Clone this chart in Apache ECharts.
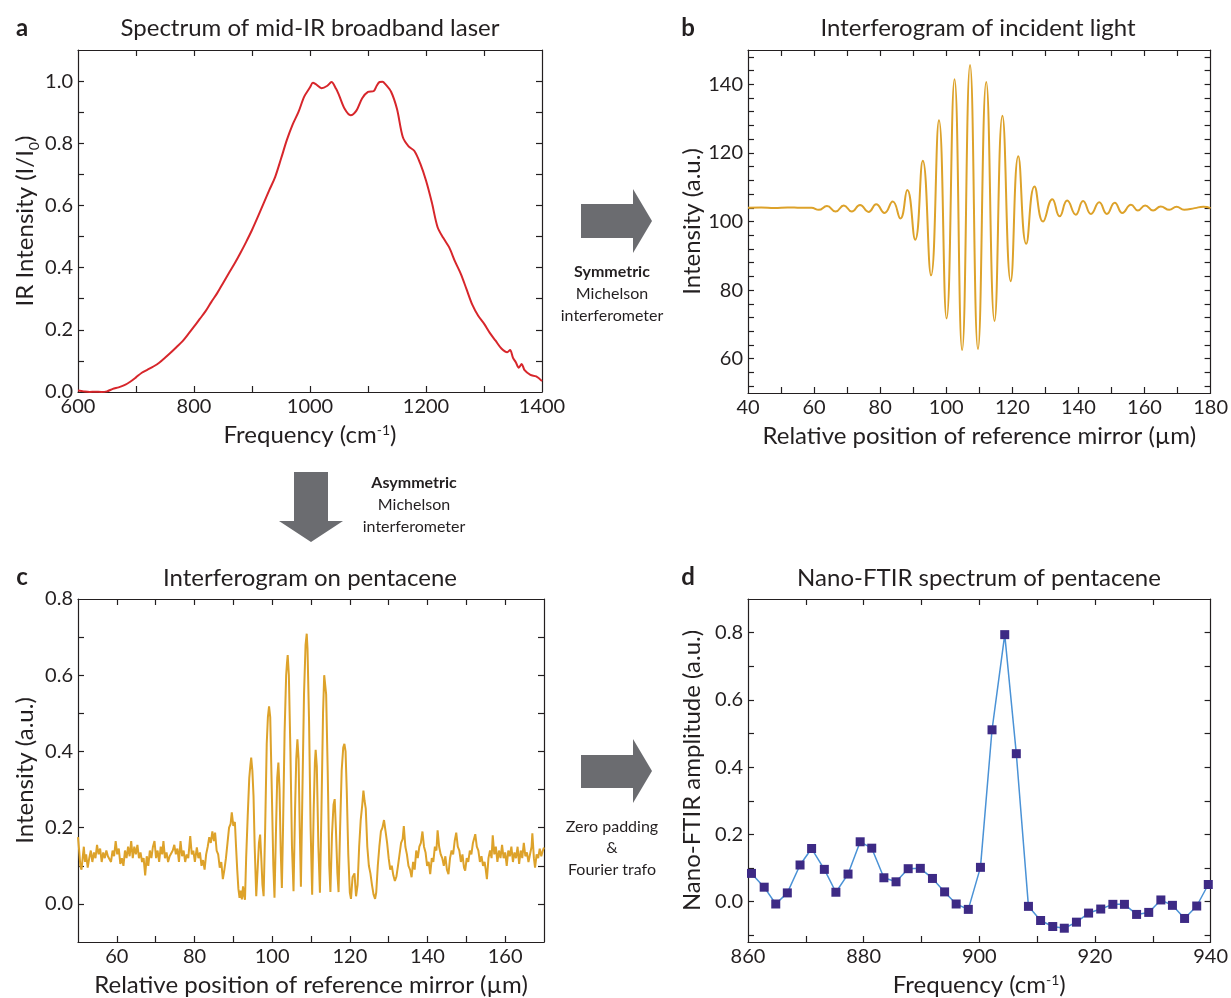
<!DOCTYPE html>
<html>
<head>
<meta charset="utf-8">
<title>Nano-FTIR figure</title>
<script src="https://cdn.jsdelivr.net/npm/echarts@6.0.0/dist/echarts.min.js"></script>
<style>
  html, body { margin: 0; padding: 0; background: #fff; }
  #chart { width: 1231px; height: 998px; }
</style>
</head>
<body>
<div id="chart"></div>
<script>
// ---- panel a: spectrum of the mid-IR laser ----
const aFreq = [600, 610, 620, 630, 640, 650, 660, 670, 680, 690, 700, 710, 720, 730, 740, 750, 760, 770, 780, 790,
  800, 810, 820, 830, 840, 850, 860, 870, 880, 890, 900, 910, 920, 930, 940, 950, 960, 970, 980, 990,
  1000, 1005, 1010, 1020, 1030, 1037, 1045, 1050, 1060, 1070, 1080, 1090, 1100, 1110, 1115, 1120, 1125, 1130,
  1140, 1150, 1160, 1170, 1180, 1190, 1200, 1210, 1220, 1230, 1240, 1250, 1260, 1270, 1280, 1290, 1300,
  1310, 1320, 1330, 1340, 1345, 1350, 1355, 1360, 1365, 1370, 1380, 1390, 1400];
const aIntensity = [0.005, 0.002, 0.0, 0.001, 0.0, 0.002, 0.01, 0.015, 0.022, 0.033, 0.047, 0.062, 0.072, 0.082, 0.094, 0.11, 0.127, 0.145, 0.163, 0.186,
  0.21, 0.235, 0.26, 0.29, 0.318, 0.35, 0.382, 0.413, 0.447, 0.483, 0.521, 0.563, 0.607, 0.65, 0.692, 0.75, 0.81, 0.86, 0.90, 0.95,
  0.98, 0.995, 0.99, 0.977, 0.985, 0.997, 0.975, 0.955, 0.91, 0.89, 0.905, 0.945, 0.965, 0.968, 0.985, 0.997, 0.998, 0.99,
  0.965, 0.91, 0.82, 0.79, 0.775, 0.735, 0.68, 0.61, 0.53, 0.495, 0.465, 0.42, 0.38, 0.33, 0.28, 0.245, 0.22,
  0.19, 0.165, 0.14, 0.128, 0.135, 0.11, 0.095, 0.078, 0.09, 0.07, 0.055, 0.05, 0.035];
const aXLabels = [600, 800, 1000, 1200, 1400];
const aXTicks = [700, 800, 900, 1000, 1100, 1200, 1300];
const aYLabels = [0, 0.2, 0.4, 0.6, 0.8, 1.0];
const aYTicks = [0.1, 0.2, 0.3, 0.4, 0.5, 0.6, 0.7, 0.8, 0.9, 1.0];

// ---- panel b: interferogram of incident light ----
const bPos = [40, 44, 48, 52, 56, 59.2, 61.4, 63.9, 66.5, 69.0, 71.4, 73.9, 76.5, 78.8, 81.3, 83.8, 86.1, 88.2, 90.6,
  92.9, 95.4, 97.8, 100.1, 102.5, 104.8, 107.2, 109.6, 112.1, 114.6, 117.0, 119.5, 121.8, 124.2, 126.7, 129.3,
  132.1, 134.3, 136.6, 139.2, 141.4, 143.8, 146.3, 148.6, 151.0, 153.3, 155.9, 158.0, 160.2, 162.6, 164.9,
  167.5, 169.7, 172.0, 175.2, 177.8, 180];
const bIntensity = [104.0, 104.1, 103.9, 104.1, 104.0, 104.0, 103.4, 104.5, 102.9, 104.7, 102.9, 104.8, 102.8, 105.0, 102.5, 105.8, 100.9, 109.2, 94.7,
  117.7, 84.3, 129.5, 71.7, 141.5, 62.5, 145.6, 62.8, 140.7, 71.0, 130.8, 82.6, 119.0, 93.5, 110.2, 100.0,
  106.5, 101.5, 106.1, 102.0, 106.0, 102.2, 105.6, 102.2, 105.5, 102.5, 104.9, 103.2, 104.7, 103.2, 104.4,
  103.4, 104.3, 103.4, 103.9, 104.3, 103.9];
const bXLabels = [40, 60, 80, 100, 120, 140, 160, 180];
const bXTicks = [50, 60, 70, 80, 90, 100, 110, 120, 130, 140, 150, 160, 170];
const bYLabels = [60, 80, 100, 120, 140];
const bYTicks = [52, 56, 60, 64, 68, 72, 76, 80, 84, 88, 92, 96, 100, 104, 108, 112, 116, 120, 124, 128, 132, 136, 140, 144, 148];

// ---- panel c: interferogram on pentacene ----
const cPos = [50.0, 50.3, 50.6, 50.9, 51.2, 51.5, 51.8, 52.1, 52.5, 52.9, 53.3, 53.7, 54.1, 54.5, 54.9, 55.3, 55.7, 56.1, 56.5, 56.9,
  57.3, 57.7, 58.1, 58.5, 58.9, 59.3, 59.7, 60.1, 60.5, 60.9, 61.3, 61.7, 62.1, 62.5, 62.9, 63.3, 63.7, 64.1, 64.5, 64.9,
  65.3, 65.7, 66.1, 66.5, 66.9, 67.3, 67.7, 68.1, 68.5, 68.9, 69.3, 69.7, 70.1, 70.5, 70.9, 71.3, 71.7, 72.0, 72.4, 72.8,
  73.2, 73.6, 74.0, 74.4, 74.8, 75.2, 75.6, 76.0, 76.4, 76.8, 77.2, 77.6, 78.0, 78.4, 78.9, 79.3, 79.7, 80.1, 80.6, 81.0,
  81.4, 81.8, 82.2, 82.6, 83.0, 83.4, 83.8, 84.2, 84.6, 85.0, 85.3, 85.7, 86.1, 86.5, 86.9, 87.3, 87.7, 88.1, 88.5, 88.9,
  89.3, 89.6, 90.0, 90.4, 90.7, 91.0, 91.3, 91.6, 91.9, 92.2, 92.5, 92.8, 93.0, 93.3, 93.7, 94.1, 94.4, 94.6, 94.9, 95.2,
  95.5, 95.9, 96.3, 96.6, 96.9, 97.2, 97.5, 97.8, 98.2, 98.6, 98.9, 99.2, 99.5, 99.9, 100.3, 100.6, 101.0, 101.3, 101.6, 101.9,
  102.2, 102.5, 102.8, 103.2, 103.6, 103.8, 104.0, 104.3, 104.7, 105.1, 105.5, 105.9, 106.2, 106.5, 106.8, 107.1, 107.4, 107.8, 108.2, 108.6,
  108.9, 109.1, 109.5, 109.9, 110.3, 110.7, 111.0, 111.2, 111.5, 111.9, 112.3, 112.7, 113.1, 113.4, 113.6, 113.9, 114.3, 114.7, 115.0, 115.4,
  115.8, 116.1, 116.4, 116.8, 117.1, 117.5, 117.9, 118.3, 118.6, 118.9, 119.2, 119.6, 120.0, 120.3, 120.7, 121.2, 121.6, 122.0, 122.4, 122.8,
  123.2, 123.5, 123.8, 124.1, 124.5, 124.9, 125.3, 125.7, 126.1, 126.5, 126.8, 127.2, 127.6, 128.0, 128.4, 128.8, 129.2, 129.6, 130.0, 130.4,
  130.8, 131.2, 131.6, 132.0, 132.4, 132.8, 133.2, 133.6, 133.9, 134.3, 134.7, 135.1, 135.5, 135.9, 136.3, 136.7, 137.1, 137.5, 137.9, 138.3,
  138.7, 139.1, 139.5, 139.9, 140.3, 140.7, 141.1, 141.5, 141.9, 142.3, 142.6, 143.0, 143.4, 143.8, 144.2, 144.6, 145.0, 145.4, 145.8, 146.2,
  146.6, 147.0, 147.4, 147.8, 148.2, 148.6, 149.0, 149.4, 149.7, 150.1, 150.5, 150.9, 151.3, 151.7, 152.0, 152.3, 152.7, 153.1, 153.5, 153.9,
  154.3, 154.7, 155.0, 155.3, 155.7, 156.1, 156.5, 156.8, 157.2, 157.6, 158.0, 158.4, 158.8, 159.2, 159.6, 160.0, 160.4, 160.8, 161.2, 161.6,
  162.0, 162.4, 162.8, 163.2, 163.6, 164.0, 164.4, 164.8, 165.2, 165.6, 166.0, 166.4, 166.8, 167.0, 167.4, 167.7, 168.1, 168.5, 168.9, 169.3,
  169.7, 170.0];
const cIntensity = [0.175, 0.14, 0.10, 0.09, 0.12, 0.15, 0.11, 0.13, 0.095, 0.12, 0.14, 0.11, 0.135, 0.12, 0.155, 0.13, 0.145, 0.11, 0.135, 0.12,
  0.14, 0.125, 0.13, 0.11, 0.14, 0.125, 0.165, 0.13, 0.145, 0.105, 0.12, 0.10, 0.14, 0.12, 0.15, 0.125, 0.165, 0.12, 0.15, 0.13,
  0.155, 0.12, 0.135, 0.11, 0.12, 0.075, 0.125, 0.10, 0.14, 0.12, 0.15, 0.165, 0.12, 0.14, 0.11, 0.15, 0.13, 0.165, 0.12, 0.135,
  0.11, 0.125, 0.12, 0.14, 0.155, 0.13, 0.145, 0.11, 0.165, 0.125, 0.14, 0.11, 0.13, 0.12, 0.178, 0.13, 0.14, 0.11, 0.148, 0.12,
  0.135, 0.10, 0.115, 0.09, 0.13, 0.15, 0.175, 0.16, 0.19, 0.165, 0.187, 0.14, 0.13, 0.095, 0.11, 0.065, 0.09, 0.12, 0.16, 0.20,
  0.21, 0.24, 0.205, 0.215, 0.15, 0.09, 0.04, 0.016, 0.035, 0.012, 0.046, 0.02, 0.011, 0.12, 0.23, 0.33, 0.365, 0.384, 0.35, 0.283,
  0.15, 0.02, 0.10, 0.16, 0.182, 0.12, 0.05, 0.02, 0.20, 0.42, 0.49, 0.518, 0.49, 0.30, 0.10, 0.016, 0.20, 0.33, 0.371, 0.30,
  0.14, 0.042, 0.20, 0.45, 0.60, 0.63, 0.653, 0.60, 0.40, 0.15, 0.033, 0.25, 0.38, 0.432, 0.38, 0.20, 0.045, 0.30, 0.55, 0.68,
  0.709, 0.67, 0.48, 0.20, 0.024, 0.25, 0.37, 0.404, 0.36, 0.15, 0.029, 0.25, 0.50, 0.60, 0.605, 0.55, 0.35, 0.10, 0.031, 0.18,
  0.26, 0.275, 0.20, 0.08, 0.031, 0.20, 0.35, 0.41, 0.42, 0.40, 0.30, 0.13, 0.03, 0.013, 0.07, 0.08, 0.02, 0.05, 0.15, 0.22,
  0.26, 0.297, 0.27, 0.25, 0.15, 0.10, 0.08, 0.05, 0.025, 0.013, 0.03, 0.10, 0.15, 0.19, 0.20, 0.22, 0.19, 0.16, 0.12, 0.09,
  0.10, 0.075, 0.06, 0.072, 0.10, 0.13, 0.16, 0.17, 0.204, 0.15, 0.13, 0.10, 0.09, 0.07, 0.11, 0.09, 0.14, 0.12, 0.15, 0.16,
  0.19, 0.15, 0.135, 0.10, 0.11, 0.078, 0.12, 0.11, 0.15, 0.14, 0.193, 0.15, 0.13, 0.12, 0.10, 0.125, 0.09, 0.078, 0.12, 0.14,
  0.13, 0.165, 0.187, 0.15, 0.14, 0.11, 0.13, 0.095, 0.087, 0.12, 0.11, 0.14, 0.13, 0.16, 0.155, 0.183, 0.15, 0.14, 0.11, 0.125,
  0.10, 0.11, 0.09, 0.065, 0.12, 0.14, 0.12, 0.18, 0.13, 0.15, 0.11, 0.14, 0.12, 0.155, 0.12, 0.135, 0.10, 0.14, 0.125, 0.15,
  0.11, 0.135, 0.12, 0.15, 0.105, 0.14, 0.12, 0.16, 0.125, 0.135, 0.11, 0.13, 0.15, 0.185, 0.12, 0.095, 0.13, 0.12, 0.145, 0.125,
  0.14, 0.148];
const cXLabels = [60, 80, 100, 120, 140, 160];
const cXTicks = [60, 70, 80, 90, 100, 110, 120, 130, 140, 150, 160];
const cYLabels = [0, 0.2, 0.4, 0.6, 0.8];
const cYTicks = [0, 0.1, 0.2, 0.3, 0.4, 0.5, 0.6, 0.7];

// ---- panel d: nano-FTIR spectrum ----
const dFreq = [860.6, 862.8, 864.8, 866.8, 869.0, 871.0, 873.2, 875.2, 877.3, 879.4, 881.4, 883.5, 885.6, 887.7, 889.8,
  891.9, 894.0, 896.0, 898.1, 900.2, 902.2, 904.4, 906.4, 908.5, 910.6, 912.7, 914.7, 916.8, 918.9, 921.0,
  923.1, 925.1, 927.2, 929.3, 931.4, 933.4, 935.5, 937.6, 939.6];
const dAmplitude = [0.084, 0.043, -0.007, 0.026, 0.109, 0.158, 0.096, 0.028, 0.082, 0.178, 0.159, 0.071, 0.059, 0.098, 0.099,
  0.069, 0.029, -0.007, -0.023, 0.102, 0.511, 0.794, 0.440, -0.014, -0.056, -0.074, -0.079, -0.061, -0.034, -0.022,
  -0.008, -0.008, -0.038, -0.032, 0.005, -0.011, -0.050, -0.013, 0.051];
const dXLabels = [860, 880, 900, 920, 940];
const dXTicks = [870, 880, 890, 900, 910, 920, 930];
const dYLabels = [0, 0.2, 0.4, 0.6, 0.8];
const dYTicks = [-0.1, 0, 0.1, 0.2, 0.3, 0.4, 0.5, 0.6, 0.7, 0.8];

const FONT = 'Lato';
const INK = '#231f20';
const GOLD = '#dda22a';

const zip = (xs, ys) => xs.map((x, i) => [x, ys[i]]);
const oneDecimal = v => v.toFixed(1);
const plain = v => String(v); // no thousands separator

// rich styles for sub/superscripts in axis names
const nameStyle = {
  fontFamily: FONT, fontSize: 24, color: INK,
  rich: {
    sup: {fontFamily: FONT, fontSize: 14, color: INK, verticalAlign: 'top', lineHeight: 24},
    sub: {fontFamily: FONT, fontSize: 14, color: INK, verticalAlign: 'bottom', lineHeight: 32}
  }
};

const lineStyle = {color: INK, width: 1.2};

// bottom + mirrored top x axis
function xPair(gi, min, max, labels, ticks, name, fmt) {
  const tick = {inside: true, length: 6, customValues: ticks, lineStyle};
  return [
    {
      type: 'value', gridIndex: gi, position: 'bottom', min, max,
      axisLine: {onZero: false, lineStyle}, axisTick: tick, splitLine: {show: false},
      axisLabel: {customValues: labels, color: INK, fontFamily: FONT, fontSize: 20, margin: 5, formatter: fmt},
      name, nameLocation: 'middle', nameGap: 31, nameTextStyle: nameStyle
    },
    {
      type: 'value', gridIndex: gi, position: 'top', min, max,
      axisLine: {onZero: false, lineStyle}, axisTick: tick, splitLine: {show: false},
      axisLabel: {show: false}
    }
  ];
}

// left + mirrored right y axis
function yPair(gi, min, max, labels, ticks, name, gap, fmt) {
  const tick = {inside: true, length: 6, customValues: ticks, lineStyle};
  return [
    {
      type: 'value', gridIndex: gi, position: 'left', min, max,
      axisLine: {onZero: false, lineStyle}, axisTick: tick, splitLine: {show: false},
      axisLabel: {customValues: labels, color: INK, fontFamily: FONT, fontSize: 20, margin: 5, formatter: fmt},
      name, nameLocation: 'middle', nameGap: gap, nameTextStyle: nameStyle
    },
    {
      type: 'value', gridIndex: gi, position: 'right', min, max,
      axisLine: {onZero: false, lineStyle}, axisTick: tick, splitLine: {show: false},
      axisLabel: {show: false}
    }
  ];
}

function label(text, x, y, size, bold) {
  return {
    type: 'text', x, y, silent: true,
    style: {
      text, fill: INK, align: 'center', verticalAlign: 'middle',
      font: (bold ? 'bold ' : '') + size + 'px ' + FONT
    }
  };
}

function arrow(points) {
  return {type: 'polygon', silent: true, shape: {points}, style: {fill: '#6b6c70'}};
}

const option = {
  animation: false,
  backgroundColor: '#fff',
  grid: [
    {left: 78, top: 50, width: 464, height: 342},
    {left: 748, top: 50, width: 465, height: 343},
    {left: 78, top: 599, width: 466, height: 344},
    {left: 748, top: 599, width: 465, height: 344}
  ],
  xAxis: [
    ...xPair(0, 600, 1400, aXLabels, aXTicks, 'Frequency (cm{sup|-1})', plain),
    ...xPair(1, 40, 180, bXLabels, bXTicks, 'Relative position of reference mirror (µm)', plain),
    ...xPair(2, 50, 170, cXLabels, cXTicks, 'Relative position of reference mirror (µm)', plain),
    ...xPair(3, 860, 940, dXLabels, dXTicks, 'Frequency (cm{sup|-1})', plain)
  ],
  yAxis: [
    ...yPair(0, 0, 1.1, aYLabels, aYTicks, 'IR Intensity (I/I{sub|0})', 37, oneDecimal),
    ...yPair(1, 50, 150, bYLabels, bYTicks, 'Intensity (a.u.)', 43, plain),
    ...yPair(2, -0.1, 0.8, cYLabels, cYTicks, 'Intensity (a.u.)', 41, oneDecimal),
    ...yPair(3, -0.12, 0.9, dYLabels, dYTicks, 'Nano-FTIR amplitude (a.u.)', 44, oneDecimal)
  ],
  series: [
    {
      type: 'line', xAxisIndex: 0, yAxisIndex: 0, data: zip(aFreq, aIntensity),
      showSymbol: false, smooth: 0.3, lineStyle: {color: '#d7262b', width: 2}
    },
    {
      type: 'line', xAxisIndex: 2, yAxisIndex: 2, data: zip(bPos, bIntensity),
      showSymbol: false, smooth: 0.5, lineStyle: {color: GOLD, width: 2}
    },
    {
      type: 'line', xAxisIndex: 4, yAxisIndex: 4, data: zip(cPos, cIntensity),
      showSymbol: false, lineStyle: {color: GOLD, width: 2}
    },
    {
      type: 'line', xAxisIndex: 6, yAxisIndex: 6, data: zip(dFreq, dAmplitude),
      symbol: 'rect', symbolSize: 9, showSymbol: true,
      itemStyle: {color: '#3d2a85'}, lineStyle: {color: '#4a92d6', width: 1.5}
    }
  ],
  graphic: [
    // panel letters and titles
    label('a', 22, 28, 24, true),
    label('Spectrum of mid-IR broadband laser', 310, 28, 24),
    label('b', 688, 28, 24, true),
    label('Interferogram of incident light', 978, 28, 24),
    label('c', 22, 577, 24, true),
    label('Interferogram on pentacene', 310, 578, 24),
    label('d', 688, 577, 24, true),
    label('Nano-FTIR spectrum of pentacene', 979, 578, 24),
    // arrows between panels
    arrow([[581, 204], [633, 204], [633, 189], [652, 221], [633, 253], [633, 238], [581, 238]]),
    arrow([[581, 755], [633, 755], [633, 739], [652, 771], [633, 803], [633, 788], [581, 788]]),
    arrow([[294, 472], [328, 472], [328, 521], [343, 521], [311, 542], [279, 521], [294, 521]]),
    label('Symmetric', 612, 272, 16, true),
    label('Michelson', 612, 294, 16),
    label('interferometer', 612, 316, 16),
    label('Asymmetric', 414, 483, 16, true),
    label('Michelson', 414, 505, 16),
    label('interferometer', 414, 527, 16),
    label('Zero padding', 612, 827, 16),
    label('&', 612, 848, 16),
    label('Fourier trafo', 612, 870, 16)
  ]
};

const myChart = echarts.init(document.getElementById('chart'));
myChart.setOption(option);
</script>
</body>
</html>
